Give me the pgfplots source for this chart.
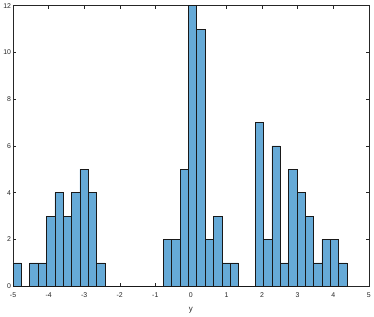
\documentclass[border=0pt]{standalone}
\usepackage{fontspec}
\setmainfont{Liberation Sans}
\usepackage{pgfplots}
\pgfplotsset{compat=1.18}
\definecolor{barfill}{RGB}{102,170,215}
\definecolor{axgray}{RGB}{38,38,38}
\begin{document}
\begin{tikzpicture}
\begin{axis}[
  scale only axis,
  width=359pt, height=283pt,
  xmin=-5, xmax=5, ymin=0, ymax=12,
  xtick={-5,-4,...,5}, ytick={0,2,...,12},
  tick align=inside,
  major tick length=3pt,
  axis line style={color=axgray, line width=0.5pt},
  tick style={color=axgray, line width=0.5pt},
  /pgf/number format/assume math mode=true,
  ticklabel style={font=\fontsize{7}{8}\selectfont, color=axgray},
  xticklabel style={yshift=-3pt},
  yticklabel style={xshift=1.5pt},
  xlabel={y},
  xlabel style={font=\fontsize{8}{9}\selectfont, color=axgray, yshift=-3pt},
]
\addplot[ybar interval, fill=barfill, draw=black!90, line width=0.5pt] coordinates {
(-5.0000,1) (-4.7653,0) (-4.5306,1) (-4.2959,1) (-4.0612,3)
(-3.8265,4) (-3.5918,3) (-3.3571,4) (-3.1224,5) (-2.8877,4)
(-2.6530,1) (-2.4183,0) (-2.1836,0) (-1.9489,0) (-1.7142,0)
(-1.4795,0) (-1.2448,0) (-1.0101,0) (-0.7754,2) (-0.5407,2)
(-0.3060,5) (-0.0713,12) (0.1634,11) (0.3981,2) (0.6328,3)
(0.8675,1) (1.1022,1) (1.3369,0) (1.5716,0) (1.8063,7)
(2.0410,2) (2.2757,6) (2.5104,1) (2.7451,5) (2.9798,4)
(3.2145,3) (3.4492,1) (3.6839,2) (3.9186,2) (4.1533,1)
(4.3880,0)
};
\end{axis}
\end{tikzpicture}
\end{document}
